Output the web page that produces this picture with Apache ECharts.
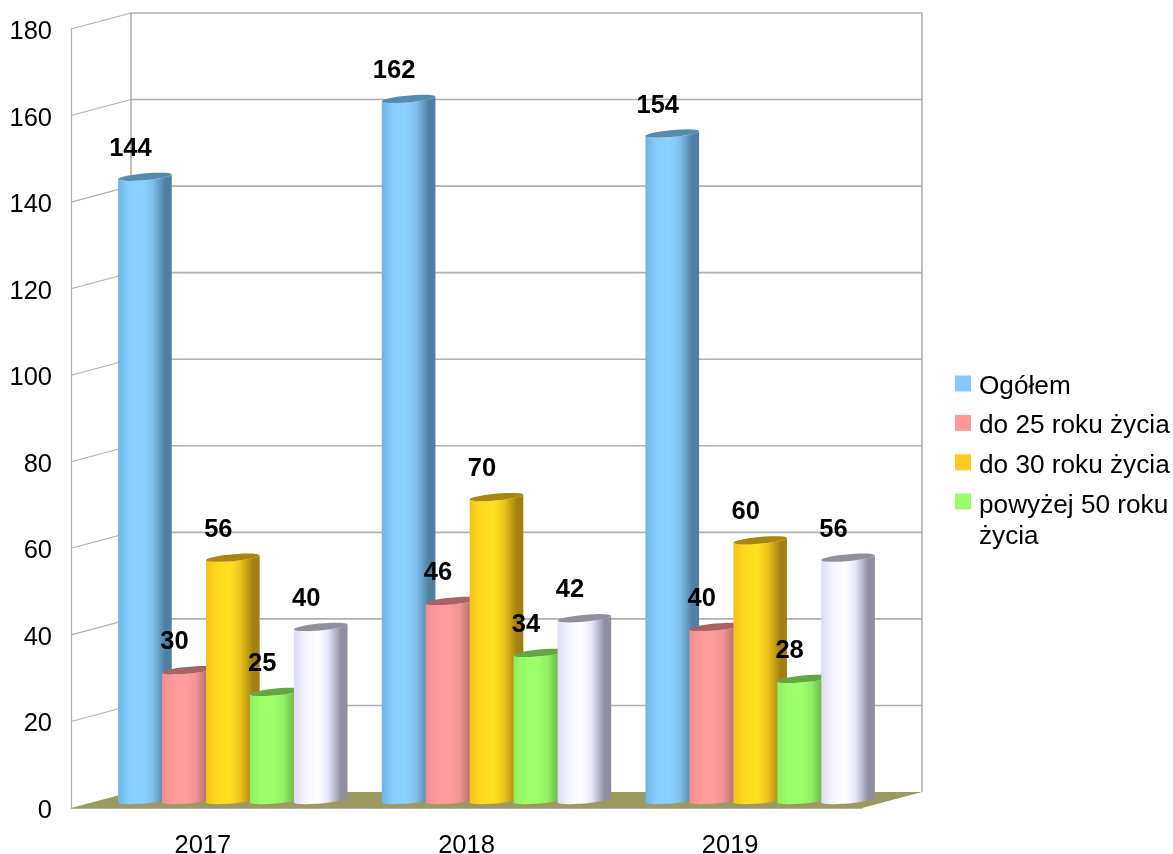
<!DOCTYPE html>
<html>
<head>
<meta charset="utf-8">
<style>html,body{margin:0;padding:0;background:#fff}#c{width:1173px;height:854px}</style>
<script src="https://cdn.jsdelivr.net/npm/echarts@6/dist/echarts.min.js"></script>
</head>
<body>
<div id="c"></div>
<script>
var years = ['2017', '2018', '2019'];
var ticks = [0, 20, 40, 60, 80, 100, 120, 140, 160, 180];
var ogolem = [144, 162, 154];
var do25 = [30, 46, 40];
var do30 = [56, 70, 60];
var powyzej50 = [25, 34, 28];
var inne = [40, 42, 56];
var seriesNames = ['Ogółem', 'do 25 roku życia', 'do 30 roku życia', 'powyżej 50 roku życia', ''];

var DEPTH_X = 60, DEPTH_Y = -16;
var FONT = '"Liberation Sans", Arial, sans-serif';
var LINE = '#b0b0b0';

var looks = [
  { legend: '#85c8ff', cap: '#568aaf', stops: ['#6fb4e6', '#86cdfd', '#8cd2ff', '#80c0ee', '#4f7fa3'] },
  { legend: '#ff9999', cap: '#a86464', stops: ['#ee8e8e', '#ff9a9a', '#ff9d9d', '#ef9292', '#a66868'] },
  { legend: '#ffcc1a', cap: '#a8860f', stops: ['#f2c21c', '#ffd81f', '#ffe020', '#edc31c', '#a2800f'] },
  { legend: '#99ff66', cap: '#64a642', stops: ['#8eee60', '#9cff69', '#9eff6a', '#90ee60', '#66a845'] },
  { legend: '#ffffff', cap: '#90909f', stops: ['#dcdcf4', '#f4f4ff', '#ffffff', '#e6e6fa', '#8e8ea0'] }
];

function ellipseArc(cx, cy, ux, vx, vy, from, to) {
  var pts = [], n = 28;
  for (var i = 0; i <= n; i++) {
    var t = from + (to - from) * i / n;
    pts.push([cx + ux * Math.cos(t) + vx * Math.sin(t), cy + vy * Math.sin(t)]);
  }
  return pts;
}

function cylinder(seriesIndex) {
  return function (params, api) {
    var idx = api.value(0), val = api.value(1);
    var diameter = api.size([1, 0])[0] / 6;
    var ux = diameter / 2, vx = diameter * 0.35, vy = -diameter * 0.095;
    var base = api.coord([idx, 0]), top = api.coord([idx, val]);
    var cx = base[0] + DEPTH_X / 2 + (seriesIndex - 2) * diameter;
    var by = base[1] + DEPTH_Y / 2, ty = top[1] + DEPTH_Y / 2;
    var tExt = Math.atan2(vx, ux);
    // front half of each ellipse, from the right extreme round to the left extreme
    var baseArc = ellipseArc(cx, by, ux, vx, vy, tExt, tExt - Math.PI);
    var topArc = ellipseArc(cx, ty, ux, vx, vy, tExt - Math.PI, tExt);
    var capArc = ellipseArc(cx, ty, ux, vx, vy, 0, Math.PI * 2);
    var s = looks[seriesIndex].stops;
    var grad = new echarts.graphic.LinearGradient(0, 0, 1, 0, [
      { offset: 0, color: s[0] }, { offset: 0.2, color: s[1] }, { offset: 0.45, color: s[2] },
      { offset: 0.64, color: s[3] }, { offset: 0.88, color: s[4] }, { offset: 1, color: s[4] }
    ]);
    return {
      type: 'group',
      children: [
        { type: 'polygon', shape: { points: baseArc.concat(topArc) }, style: { fill: grad } },
        { type: 'polygon', shape: { points: capArc }, style: { fill: looks[seriesIndex].cap } },
        {
          type: 'text', z2: 100,
          style: {
            text: String(val), x: cx - 14.5, y: ty - 28, align: 'center', verticalAlign: 'middle',
            font: 'bold 25.5px ' + FONT, fill: '#000'
          }
        }
      ]
    };
  };
}

function backdrop(params, api) {
  var tick = api.value(1);
  var front = api.coord([0, tick]);
  var size = api.size([1, 0])[0];
  var left = front[0] - size / 2;
  var bx = left + DEPTH_X, by = front[1] + DEPTH_Y;
  var right = bx + size * years.length;
  var kids = [];
  if (tick === 0) {
    kids.push({
      type: 'polygon',
      shape: { points: [[left, front[1]], [bx, by], [right, by], [right - DEPTH_X, front[1]]] },
      style: { fill: '#9c9a60' }
    });
    var topY = api.coord([0, ticks[ticks.length - 1]])[1] + DEPTH_Y;
    kids.push({ type: 'line', shape: { x1: bx, y1: by, x2: bx, y2: topY }, style: { stroke: LINE, lineWidth: 1.6 } });
    kids.push({ type: 'line', shape: { x1: right, y1: by, x2: right, y2: topY }, style: { stroke: LINE, lineWidth: 1.6 } });
  } else {
    kids.push({ type: 'line', shape: { x1: bx, y1: by, x2: right, y2: by }, style: { stroke: LINE, lineWidth: 1.6 } });
    kids.push({ type: 'line', shape: { x1: left, y1: front[1], x2: bx, y2: by }, style: { stroke: LINE, lineWidth: 1.1 } });
  }
  return { type: 'group', children: kids };
}

var allValues = [ogolem, do25, do30, powyzej50, inne];
var series = [{
  type: 'custom', name: 'tlo', silent: true, clip: false,
  coordinateSystem: 'cartesian2d', renderItem: backdrop, z: 1,
  data: ticks.map(function (t) { return [0, t]; })
}];
allValues.forEach(function (vals, si) {
  series.push({
    type: 'custom', name: seriesNames[si] || ' ', clip: false, z: 2,
    coordinateSystem: 'cartesian2d', renderItem: cylinder(si),
    itemStyle: { color: looks[si].legend },
    encode: { x: 0, y: 1 },
    data: vals.map(function (v, i) { return [i, v]; })
  });
});

var legendFontSize = 26.2;
function legendRich() {
  return {
    fontFamily: FONT, fontSize: legendFontSize, color: '#000', padding: [0, 0, 0, 3],
    rich: {
      a: { fontFamily: FONT, fontSize: legendFontSize, color: '#000', lineHeight: 31, padding: [6, 0, 0, 0] },
      b: { fontFamily: FONT, fontSize: legendFontSize, color: '#000', lineHeight: 31 },
      z: { fontFamily: FONT, fontSize: legendFontSize, lineHeight: 39 }
    }
  };
}
function legendNames(list) {
  return list.map(function (n) { return { name: n, icon: 'rect' }; });
}

var chart = echarts.init(document.getElementById('c'), null, { renderer: 'canvas' });
chart.setOption({
  animation: false,
  backgroundColor: '#fff',
  tooltip: { show: false },
  grid: { left: 71, top: 29, width: 791, height: 779, containLabel: false, outerBoundsMode: 'none' },
  legend: [{
    show: true, orient: 'vertical', left: 955, top: 367.5,
    itemWidth: 16, itemHeight: 16, itemGap: 7.4, padding: 0, selectedMode: false,
    data: legendNames(seriesNames.slice(0, 3)),
    formatter: function (n) { return '{a|' + n + '}'; },
    textStyle: legendRich()
  }, {
    show: true, orient: 'vertical', left: 955, top: 457.5,
    itemWidth: 16, itemHeight: 16, padding: 0, selectedMode: false,
    data: legendNames(seriesNames.slice(3, 4)),
    formatter: function () { return '{z| }\n{b|powyżej 50 roku}\n{b|życia}'; },
    textStyle: legendRich()
  }],
  xAxis: {
    type: 'category', data: years,
    axisLine: { show: true, lineStyle: { color: LINE, width: 1.2 } },
    axisTick: { show: false }, splitLine: { show: false },
    axisLabel: { fontFamily: FONT, fontSize: 25.5, color: '#000', margin: 25 }
  },
  yAxis: {
    type: 'value', min: 0, max: 180, interval: 20,
    axisLine: { show: true, lineStyle: { color: LINE, width: 1.2 } },
    axisTick: { show: false }, splitLine: { show: false },
    axisLabel: {
      fontFamily: FONT, fontSize: 25.5, color: '#000', margin: 19,
      formatter: '{a|{value}}',
      rich: { a: { fontFamily: FONT, fontSize: 25.5, color: '#000', padding: [6, 0, 0, 0] } }
    }
  },
  series: series
});
</script>
</body>
</html>
